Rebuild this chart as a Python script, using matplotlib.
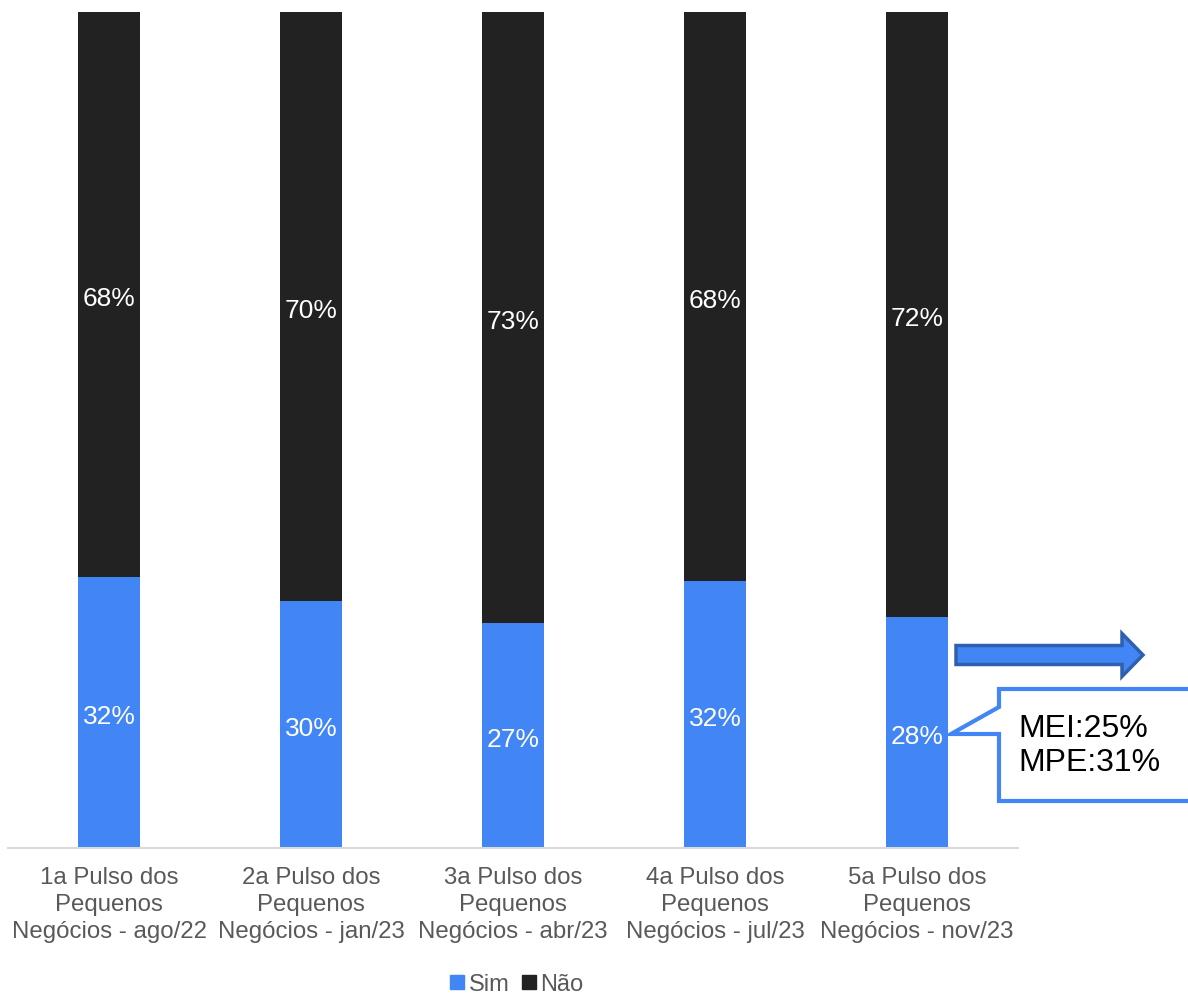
import matplotlib.pyplot as plt
from matplotlib.patches import Polygon, FancyArrow
from matplotlib.lines import Line2D

plt.rcParams['font.family'] = ['Liberation Sans', 'DejaVu Sans']

categories = ['1a Pulso dos\nPequenos\nNegócios - ago/22',
              '2a Pulso dos\nPequenos\nNegócios - jan/23',
              '3a Pulso dos\nPequenos\nNegócios - abr/23',
              '4a Pulso dos\nPequenos\nNegócios - jul/23',
              '5a Pulso dos\nPequenos\nNegócios - nov/23']
sim = [32.4, 29.6, 26.9, 31.9, 27.6]
nao = [67.6, 70.4, 73.1, 68.1, 72.4]
callout_text = 'MEI:25%\nMPE:31%'

BLUE = '#4285F4'
DARK = '#222222'
W, H = 1188, 995

fig = plt.figure(figsize=(W / 100, H / 100), dpi=100)
ax = fig.add_axes([8 / W, 1 - 849 / H, 1010 / W, 836 / H])

x = list(range(len(categories)))
ax.bar(x, sim, width=0.31, color=BLUE, label='Sim')
ax.bar(x, nao, width=0.31, bottom=sim, color=DARK, label='Não')

for i in x:
    ax.annotate(f'{sim[i]:.0f}%', (i, sim[i] / 2), xytext=(0, -2.5), textcoords='offset points',
                ha='center', va='center', color='white', fontsize=19)
    ax.annotate(f'{nao[i]:.0f}%', (i, sim[i] + nao[i] / 2), xytext=(0, -2.5), textcoords='offset points',
                ha='center', va='center', color='white', fontsize=19)

ax.set_xlim(-0.5, len(categories) - 0.5)
ax.set_ylim(0, 100)
ax.set_yticks([])
ax.set_xticks(x)
ax.set_xticklabels(categories, fontsize=17.3, color='#595959', linespacing=1.3)
ax.tick_params(axis='x', length=0, pad=13)
for s in ['top', 'right', 'left']:
    ax.spines[s].set_visible(False)
ax.spines['bottom'].set_color('#D9D9D9')
ax.spines['bottom'].set_linewidth(1.5)

# legenda
handles = [Line2D([], [], marker='s', linestyle='', color=BLUE, markersize=10),
           Line2D([], [], marker='s', linestyle='', color=DARK, markersize=10)]
fig.legend(handles, ['Sim', 'Não'], loc='center', bbox_to_anchor=(517 / W, 1 - 985 / H),
           ncol=2, frameon=False, fontsize=17, handlelength=0.6, handletextpad=0.2,
           columnspacing=0.5, labelcolor='#595959')


def fp(px, py):
    return (px / W, 1 - py / H)


# seta
seta = FancyArrow(956 / W, 1 - 656 / H, (1143 - 956) / W, 0, width=19 / H,
                  head_width=43 / H, head_length=21 / W, length_includes_head=True,
                  transform=fig.transFigure, facecolor=BLUE, edgecolor='#2F5FAF',
                  linewidth=2.5, clip_on=False)
fig.patches.append(seta)

# balão
pts = [fp(999, 690), fp(1200, 690), fp(1200, 802), fp(999, 802), fp(999, 735),
       fp(951, 735), fp(999, 708)]
callout = Polygon(pts, closed=True, transform=fig.transFigure, facecolor='white',
                  edgecolor=BLUE, linewidth=3, joinstyle='miter', clip_on=False)
fig.patches.append(callout)
fig.text(1018 / W, 1 - 746 / H, callout_text, fontsize=23, color='black',
         va='center', ha='left', linespacing=1.15)

fig.savefig('out.png', dpi=100, facecolor='white')
